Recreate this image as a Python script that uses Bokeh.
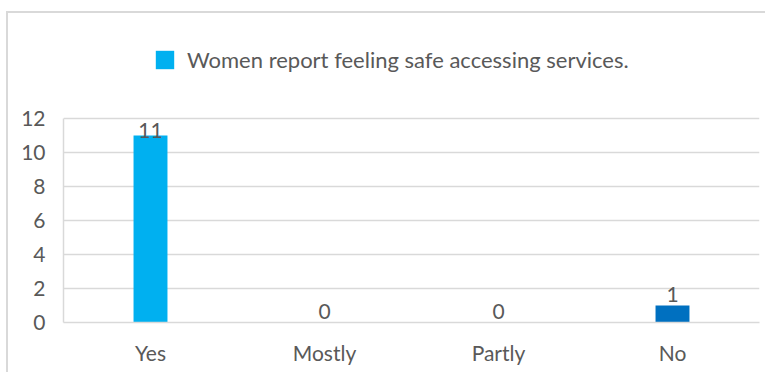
from bokeh.plotting import figure
from bokeh.models import ColumnDataSource, Range1d, Legend, LegendItem, FixedTicker
from bokeh.core.properties import value
from bokeh.embed import file_html
from bokeh.resources import INLINE
import numpy as np

# Survey responses
categories = ["Yes", "Mostly", "Partly", "No"]
counts = [11, 0, 0, 1]
bar_colors = ["#00B0F0", "#00B0F0", "#00B0F0", "#0070C0"]
series_name = "Women report feeling safe accessing services."
y_ticks = [0, 2, 4, 6, 8, 10, 12]

FONT = "Lato"
TEXT = "#595959"
GRID = "#D9D9D9"
Y_MAX = 12

# The frame reaches up to the top of the canvas so the legend can sit
# above the value axis; the visible axis covers 0..Y_MAX only.
FRAME_H = 309      # pixel height of the frame
AXIS_H = 204       # pixel height used by 0..Y_MAX
Y_END = Y_MAX * FRAME_H / AXIS_H

# keep value labels inside the plotting area near the top
label_y = np.minimum(np.array(counts, dtype=float), Y_MAX - 1.4)

source = ColumnDataSource(dict(
    cat=categories,
    count=counts,
    color=bar_colors,
    label=[str(c) for c in counts],
    label_y=label_y,
))

p = figure(
    x_range=categories,
    y_range=Range1d(0, Y_END),
    width=759, height=361,
    output_backend="svg",
    toolbar_location=None,
    min_border_left=55, min_border_right=8,
    min_border_top=0, min_border_bottom=52,
)
p.margin = (11, 0, 0, 6)
p.styles = {"border-top": "2px solid #D9D9D9", "border-left": "2px solid #D9D9D9"}

p.outline_line_color = None
p.background_fill_color = "white"
p.border_fill_color = "white"

bars = p.vbar(x="cat", top="count", width=0.195, source=source,
              fill_color="color", line_color=None)

p.text(x="cat", y="label_y", text="label", source=source,
       text_align="center", text_baseline="bottom", y_offset=-4,
       text_font=value(FONT), text_font_size="21px", text_color=TEXT)

# axes
p.yaxis.ticker = FixedTicker(ticks=y_ticks)
p.yaxis.bounds = (0, Y_MAX)
p.xgrid.grid_line_color = None
p.ygrid.grid_line_color = GRID
p.ygrid.grid_line_width = 1.5
for ax in (p.xaxis[0], p.yaxis[0]):
    ax.axis_line_color = GRID
    ax.axis_line_width = 1.5
    ax.major_tick_line_color = None
    ax.minor_tick_line_color = None
    ax.major_tick_out = 0
    ax.major_tick_in = 0
    ax.major_label_text_font = FONT
    ax.major_label_text_font_size = "21px"
    ax.major_label_text_color = TEXT
p.yaxis.major_label_standoff = 18
p.xaxis.major_label_standoff = 17

# bar legend swatches are drawn inset by 10% on each side
legend = Legend(
    items=[LegendItem(label=series_name, renderers=[bars], index=0)],
    location=(90, 249),
    orientation="horizontal",
    padding=0, margin=0,
    glyph_width=23, glyph_height=23,
    label_standoff=11,
    label_text_font=FONT, label_text_font_size="22px", label_text_color=TEXT,
    border_line_color=None, background_fill_alpha=0,
)
p.add_layout(legend)

open("out.html", "w").write(file_html(p, INLINE))
